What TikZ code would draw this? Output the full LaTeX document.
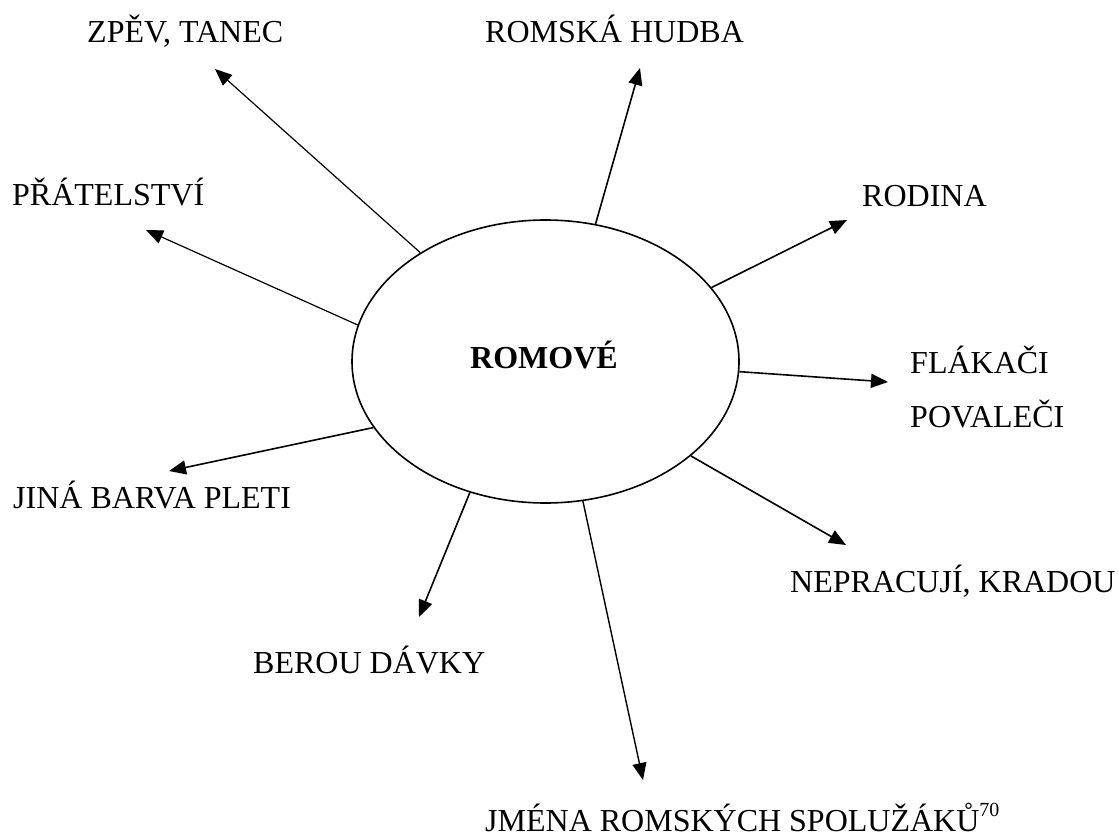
\documentclass[tikz,border=0pt]{standalone}
\usepackage{fontspec}
\setmainfont{Liberation Serif}
\usetikzlibrary{arrows.meta,shapes.geometric}
\begin{document}
\begin{tikzpicture}[x=1pt,y=-1pt,
  lbl/.style={anchor=base west,inner sep=0pt,font=\fontsize{32}{38}\selectfont},
  conn/.style={line width=1.6pt,-{Triangle[length=17pt,width=14pt]}},
  thinconn/.style={conn,line width=1.2pt}]
\useasboundingbox (0,0) rectangle (1119,837);
% central ellipse
\node[draw,ellipse,line width=1.6pt,minimum width=387pt,minimum height=283pt,inner sep=0pt] (e) at (545.5,361.5) {};
\node[anchor=base,inner sep=0pt,font=\fontsize{32}{38}\selectfont\bfseries] (t) at (544,368) {ROMOVÉ};
% labels
\node[lbl] (zpev) at (87,43) {ZPĚV, TANEC};
\node[lbl] (hudba) at (485,43) {ROMSKÁ HUDBA};
\node[lbl] (rodina) at (862,207) {RODINA};
\node[lbl] (pratel) at (12,206) {PŘÁTELSTVÍ};
\node[lbl] (flak) at (910,373) {FLÁKAČI};
\node[lbl] (poval) at (910,427) {POVALEČI};
\node[lbl] (neprac) at (790,592) {NEPRACUJÍ, KRADOU};
\node[lbl] (jina) at (13,508) {JINÁ BARVA PLETI};
\node[lbl] (berou) at (253,673) {BEROU DÁVKY};
\node[lbl] (jmena) at (485,831) {JMÉNA ROMSKÝCH SPOLUŽÁKŮ\raisebox{15pt}{\fontsize{20}{20}\selectfont 70}};
% arrow tips
\coordinate (c1) at (215,69);
\coordinate (c2) at (640,68);
\coordinate (c3) at (847,220);
\coordinate (c4) at (146,230);
\coordinate (c5) at (888,382);
\coordinate (c6) at (846,545);
\coordinate (c7) at (169,471);
\coordinate (c8) at (419,617);
\coordinate (c9) at (643,780);
% connectors
\draw[thinconn] (e.139.4) -- (c1);
\draw[conn] (e.70) -- (c2);
\draw[conn] (e.24.9) -- (c3);
\draw[thinconn] (e.169.6) -- (c4);
\draw[conn] (e.-3.1) -- (c5);
\draw[conn] (e.-33.9) -- (c6);
\draw[conn] (e.201) -- (c7);
\draw[conn] (e.240.5) -- (c8);
\draw[conn,line width=1.4pt] (e.285.6) -- (c9);
\end{tikzpicture}
\end{document}
